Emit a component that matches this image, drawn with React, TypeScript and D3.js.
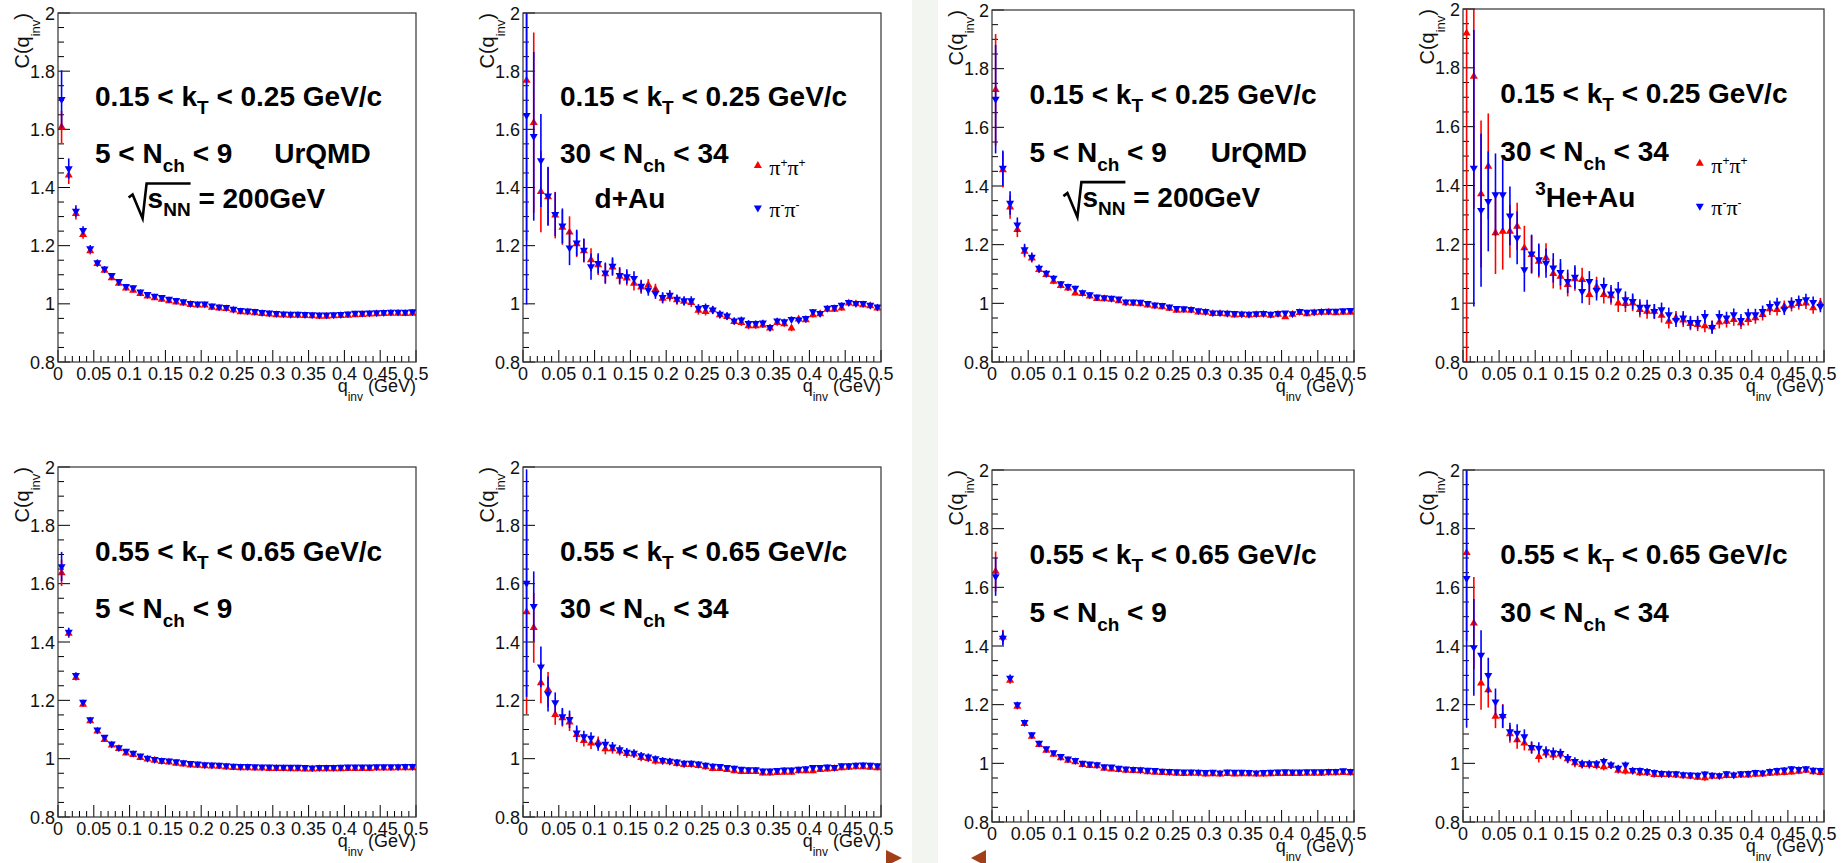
import React from "react";
import * as d3 from "d3";

// ---------- data ----------
const qBins = [0.005,0.015,0.025,0.035,0.045,0.055,0.065,0.075,0.085,0.095,
  0.105,0.115,0.125,0.135,0.145,0.155,0.165,0.175,0.185,0.195,
  0.205,0.215,0.225,0.235,0.245,0.255,0.265,0.275,0.285,0.295,
  0.305,0.315,0.325,0.335,0.345,0.355,0.365,0.375,0.385,0.395,
  0.405,0.415,0.425,0.435,0.445,0.455,0.465,0.475,0.485,0.495];

const kTLow = ["0.15", "0.25"];
const kTHigh = ["0.55", "0.65"];
const nchLow = ["5", "9"];
const nchHigh = ["30", "34"];
const legendLabels = [["+", "+"], ["-", "-"]];

// Panel 1: UrQMD 5<Nch<9, 0.15<kT<0.25
const p1Red = [1.608,1.442,1.31,1.238,1.182,1.138,1.115,1.089,1.07,1.054,
  1.046,1.035,1.026,1.02,1.015,1.01,1.006,1.002,0.997,0.995,
  0.995,0.988,0.985,0.983,0.978,0.972,0.971,0.969,0.966,0.964,
  0.962,0.961,0.96,0.96,0.959,0.958,0.957,0.957,0.958,0.959,
  0.96,0.962,0.963,0.964,0.965,0.966,0.967,0.967,0.966,0.967];
const p1Blue = [1.703,1.465,1.319,1.253,1.19,1.142,1.12,1.098,1.077,1.06,
  1.056,1.041,1.033,1.027,1.022,1.016,1.012,1.008,1.002,1.0,
  1.0,0.993,0.99,0.988,0.982,0.978,0.976,0.974,0.971,0.969,
  0.967,0.966,0.965,0.965,0.964,0.963,0.962,0.962,0.963,0.964,
  0.966,0.968,0.968,0.969,0.97,0.971,0.972,0.972,0.972,0.973];
const p1RedErr = [0.055,0.03,0.02,0.014,0.012,0.01,0.009,0.008,0.008,0.007,
  0.007,0.007,0.006,0.006,0.006,0.006,0.006,0.005,0.005,0.005,
  0.005,0.005,0.005,0.005,0.005,0.005,0.005,0.005,0.005,0.005,
  0.005,0.005,0.005,0.005,0.005,0.005,0.005,0.005,0.005,0.005,
  0.005,0.005,0.005,0.005,0.005,0.005,0.005,0.005,0.005,0.005];
const p1BlueErr = [0.1,0.035,0.02,0.014,0.012,0.01,0.009,0.008,0.008,0.007,
  0.007,0.007,0.006,0.006,0.006,0.006,0.006,0.005,0.005,0.005,
  0.005,0.005,0.005,0.005,0.005,0.005,0.005,0.005,0.005,0.005,
  0.005,0.005,0.005,0.005,0.005,0.005,0.005,0.005,0.005,0.005,
  0.005,0.005,0.005,0.005,0.005,0.005,0.005,0.005,0.005,0.005];

// Panel 2: d+Au 30<Nch<34, 0.15<kT<0.25
const p2Red = [1.768,1.623,1.386,1.368,1.305,1.263,1.246,1.206,1.182,1.151,
  1.134,1.103,1.126,1.094,1.088,1.07,1.057,1.065,1.05,1.019,
  1.025,1.013,1.008,1.004,0.977,0.973,0.979,0.962,0.956,0.939,
  0.935,0.924,0.924,0.927,0.916,0.935,0.931,0.916,0.947,0.945,
  0.962,0.965,0.981,0.981,0.985,1.002,1.0,0.996,0.993,0.985];
const p2Blue = [1.648,1.576,1.493,1.371,1.308,1.268,1.193,1.21,1.185,1.128,
  1.139,1.107,1.13,1.098,1.094,1.088,1.061,1.048,1.036,1.022,
  1.03,1.016,1.011,1.011,0.985,0.988,0.979,0.965,0.959,0.942,
  0.945,0.933,0.933,0.935,0.919,0.942,0.939,0.947,0.945,0.95,
  0.973,0.967,0.985,0.988,0.996,1.005,1.002,1.002,0.996,0.99];
const p2RedErr = [0.55,0.31,0.14,0.1,0.08,0.06,0.055,0.045,0.04,0.04,
  0.035,0.035,0.03,0.028,0.025,0.024,0.022,0.02,0.019,0.018,
  0.017,0.016,0.015,0.015,0.014,0.013,0.013,0.012,0.012,0.011,
  0.011,0.011,0.01,0.01,0.01,0.01,0.01,0.01,0.009,0.009,
  0.009,0.009,0.009,0.009,0.009,0.008,0.008,0.008,0.008,0.008];
const p2BlueErr = [0.65,0.29,0.16,0.1,0.075,0.06,0.06,0.045,0.04,0.045,
  0.035,0.035,0.03,0.028,0.025,0.024,0.022,0.02,0.019,0.018,
  0.017,0.016,0.015,0.015,0.014,0.013,0.013,0.012,0.012,0.011,
  0.011,0.011,0.01,0.01,0.01,0.01,0.01,0.01,0.009,0.009,
  0.009,0.009,0.009,0.009,0.009,0.008,0.008,0.008,0.008,0.008];

// Panel 3: UrQMD 5<Nch<9, 0.15<kT<0.25
const p3Red = [1.728,1.455,1.328,1.251,1.177,1.154,1.115,1.098,1.075,1.06,
  1.052,1.035,1.033,1.024,1.016,1.015,1.013,1.008,1.001,1.0,
  0.998,0.994,0.99,0.988,0.983,0.976,0.977,0.976,0.97,0.969,
  0.965,0.965,0.963,0.96,0.961,0.96,0.961,0.962,0.959,0.962,
  0.954,0.962,0.968,0.964,0.967,0.969,0.969,0.967,0.969,0.969];
const p3Blue = [1.696,1.461,1.342,1.268,1.183,1.158,1.12,1.103,1.086,1.067,
  1.058,1.052,1.037,1.03,1.022,1.02,1.018,1.015,1.005,1.005,
  1.004,1.0,0.995,0.993,0.988,0.983,0.982,0.98,0.975,0.973,
  0.968,0.968,0.967,0.966,0.964,0.963,0.965,0.966,0.963,0.966,
  0.968,0.965,0.973,0.97,0.971,0.973,0.974,0.974,0.975,0.976];
const p3RedErr = [0.19,0.06,0.04,0.025,0.02,0.015,0.012,0.01,0.01,0.009,
  0.009,0.008,0.008,0.007,0.007,0.007,0.006,0.006,0.006,0.006,
  0.005,0.005,0.005,0.005,0.005,0.005,0.005,0.005,0.005,0.005,
  0.005,0.005,0.005,0.005,0.005,0.005,0.005,0.005,0.005,0.005,
  0.005,0.005,0.005,0.005,0.005,0.005,0.005,0.005,0.005,0.005];
const p3BlueErr = [0.185,0.06,0.04,0.025,0.02,0.015,0.012,0.01,0.01,0.009,
  0.009,0.008,0.008,0.007,0.007,0.007,0.006,0.006,0.006,0.006,
  0.005,0.005,0.005,0.005,0.005,0.005,0.005,0.005,0.005,0.005,
  0.005,0.005,0.005,0.005,0.005,0.005,0.005,0.005,0.005,0.005,
  0.005,0.005,0.005,0.005,0.005,0.005,0.005,0.005,0.005,0.005];

// Panel 4: 3He+Au 30<Nch<34, 0.15<kT<0.25
const p4Red = [1.918,1.771,1.371,1.465,1.239,1.244,1.244,1.261,1.188,1.165,
  1.142,1.154,1.1,1.091,1.063,1.082,1.08,1.029,1.055,1.029,
  1.025,1.0,0.998,1.0,0.978,0.972,0.972,0.958,0.938,0.95,
  0.942,0.93,0.927,0.923,0.919,0.935,0.938,0.944,0.933,0.944,
  0.95,0.961,0.98,0.978,0.989,0.992,0.998,1.0,0.984,0.998];
const p4Blue = [null,1.459,1.316,1.346,1.369,1.369,1.297,1.222,1.114,1.168,
  1.148,1.136,1.12,1.105,1.074,1.089,1.04,1.074,1.044,1.057,
  1.032,1.042,1.012,1.006,0.987,0.987,0.972,0.978,0.961,0.942,
  0.95,0.935,0.935,0.955,0.918,0.955,0.95,0.961,0.942,0.961,
  0.961,0.972,0.989,0.998,0.98,1.0,1.006,1.012,1.003,0.989];
const p4RedErr = [1.2,0.45,0.25,0.18,0.14,0.13,0.09,0.08,0.075,0.065,
  0.055,0.05,0.05,0.045,0.04,0.04,0.04,0.035,0.035,0.03,
  0.03,0.03,0.028,0.027,0.026,0.025,0.025,0.024,0.024,0.023,
  0.023,0.022,0.022,0.022,0.022,0.021,0.021,0.021,0.021,0.02,
  0.02,0.02,0.02,0.02,0.02,0.02,0.02,0.02,0.02,0.02];
const p4BlueErr = [0,0.47,0.26,0.17,0.14,0.12,0.1,0.09,0.075,0.065,
  0.055,0.05,0.05,0.045,0.04,0.04,0.04,0.035,0.035,0.03,
  0.03,0.03,0.028,0.027,0.026,0.025,0.025,0.024,0.024,0.023,
  0.023,0.022,0.022,0.022,0.022,0.021,0.021,0.021,0.021,0.02,
  0.02,0.02,0.02,0.02,0.02,0.02,0.02,0.02,0.02,0.02];

// Panel 5: 5<Nch<9, 0.55<kT<0.65
const p5Red = [1.637,1.429,1.278,1.186,1.129,1.094,1.065,1.046,1.034,1.019,
  1.014,1.003,0.998,0.994,0.99,0.988,0.984,0.981,0.978,0.977,
  0.975,0.974,0.973,0.971,0.969,0.968,0.968,0.967,0.967,0.966,
  0.966,0.966,0.965,0.965,0.964,0.964,0.965,0.965,0.965,0.965,
  0.966,0.966,0.966,0.966,0.967,0.967,0.967,0.968,0.968,0.968];
const p5Blue = [1.659,1.434,1.286,1.194,1.134,1.099,1.074,1.051,1.038,1.026,
  1.019,1.01,1.002,0.998,0.994,0.993,0.99,0.987,0.984,0.982,
  0.98,0.979,0.978,0.976,0.975,0.974,0.974,0.973,0.972,0.972,
  0.971,0.971,0.971,0.971,0.97,0.969,0.97,0.97,0.97,0.971,
  0.972,0.972,0.972,0.972,0.973,0.973,0.973,0.973,0.974,0.974];
const p5RedErr = [0.045,0.015,0.01,0.008,0.007,0.006,0.006,0.005,0.005,0.005,
  0.005,0.005,0.005,0.005,0.005,0.005,0.005,0.005,0.005,0.005,
  0.005,0.005,0.005,0.005,0.005,0.005,0.005,0.005,0.005,0.005,
  0.005,0.005,0.005,0.005,0.005,0.005,0.005,0.005,0.005,0.005,
  0.005,0.005,0.005,0.005,0.005,0.005,0.005,0.005,0.005,0.005];
const p5BlueErr = [0.05,0.015,0.01,0.008,0.007,0.006,0.006,0.005,0.005,0.005,
  0.005,0.005,0.005,0.005,0.005,0.005,0.005,0.005,0.005,0.005,
  0.005,0.005,0.005,0.005,0.005,0.005,0.005,0.005,0.005,0.005,
  0.005,0.005,0.005,0.005,0.005,0.005,0.005,0.005,0.005,0.005,
  0.005,0.005,0.005,0.005,0.005,0.005,0.005,0.005,0.005,0.005];

// Panel 6: 30<Nch<34, 0.55<kT<0.65
const p6Red = [1.503,1.449,1.26,1.237,1.151,1.14,1.125,1.082,1.062,1.053,
  1.056,1.033,1.033,1.026,1.017,1.015,1.003,1.0,0.991,0.991,
  0.989,0.983,0.979,0.979,0.976,0.972,0.966,0.966,0.962,0.958,
  0.955,0.955,0.955,0.95,0.95,0.952,0.953,0.953,0.958,0.958,
  0.958,0.962,0.964,0.966,0.968,0.97,0.972,0.972,0.97,0.968];
const p6Blue = [1.602,1.522,1.315,1.222,1.192,1.144,1.135,1.089,1.076,1.071,
  1.047,1.05,1.041,1.031,1.023,1.019,1.011,1.006,1.0,0.994,
  0.992,0.989,0.985,0.985,0.982,0.978,0.975,0.974,0.97,0.968,
  0.964,0.963,0.963,0.958,0.958,0.96,0.962,0.962,0.964,0.966,
  0.97,0.97,0.972,0.97,0.976,0.976,0.978,0.979,0.978,0.976];
const p6RedErr = [0.35,0.12,0.07,0.06,0.035,0.03,0.03,0.025,0.02,0.02,
  0.02,0.018,0.016,0.015,0.014,0.013,0.012,0.012,0.011,0.011,
  0.01,0.01,0.01,0.009,0.009,0.009,0.009,0.008,0.008,0.008,
  0.008,0.008,0.008,0.008,0.008,0.008,0.008,0.008,0.008,0.008,
  0.008,0.008,0.008,0.008,0.008,0.008,0.008,0.008,0.008,0.008];
const p6BlueErr = [0.39,0.12,0.07,0.06,0.035,0.03,0.03,0.025,0.02,0.02,
  0.02,0.018,0.016,0.015,0.014,0.013,0.012,0.012,0.011,0.011,
  0.01,0.01,0.01,0.009,0.009,0.009,0.009,0.008,0.008,0.008,
  0.008,0.008,0.008,0.008,0.008,0.008,0.008,0.008,0.008,0.008,
  0.008,0.008,0.008,0.008,0.008,0.008,0.008,0.008,0.008,0.008];

// Panel 7: 5<Nch<9, 0.55<kT<0.65
const p7Red = [1.654,1.43,1.283,1.194,1.135,1.092,1.064,1.044,1.03,1.018,
  1.01,1.005,0.995,0.992,0.991,0.983,0.98,0.978,0.976,0.975,
  0.974,0.971,0.969,0.968,0.967,0.966,0.965,0.966,0.966,0.963,
  0.964,0.963,0.965,0.963,0.964,0.964,0.963,0.963,0.964,0.965,
  0.965,0.965,0.965,0.966,0.966,0.966,0.967,0.967,0.968,0.967];
const p7Blue = [1.637,1.427,1.291,1.2,1.14,1.098,1.069,1.05,1.037,1.024,
  1.015,1.01,1.001,0.998,0.996,0.989,0.988,0.984,0.981,0.98,
  0.979,0.977,0.976,0.974,0.973,0.972,0.971,0.971,0.97,0.969,
  0.97,0.968,0.971,0.97,0.97,0.969,0.968,0.969,0.97,0.971,
  0.972,0.971,0.971,0.972,0.972,0.972,0.973,0.973,0.975,0.973];
const p7RedErr = [0.068,0.025,0.012,0.01,0.008,0.007,0.006,0.006,0.005,0.005,
  0.005,0.005,0.005,0.005,0.005,0.005,0.005,0.005,0.005,0.005,
  0.005,0.005,0.005,0.005,0.005,0.005,0.005,0.005,0.005,0.005,
  0.005,0.005,0.005,0.005,0.005,0.005,0.005,0.005,0.005,0.005,
  0.005,0.005,0.005,0.005,0.005,0.005,0.005,0.005,0.005,0.005];
const p7BlueErr = [0.066,0.025,0.012,0.01,0.008,0.007,0.006,0.006,0.005,0.005,
  0.005,0.005,0.005,0.005,0.005,0.005,0.005,0.005,0.005,0.005,
  0.005,0.005,0.005,0.005,0.005,0.005,0.005,0.005,0.005,0.005,
  0.005,0.005,0.005,0.005,0.005,0.005,0.005,0.005,0.005,0.005,
  0.005,0.005,0.005,0.005,0.005,0.005,0.005,0.005,0.005,0.005];

// Panel 8: 30<Nch<34, 0.55<kT<0.65
const p8Red = [1.718,1.478,1.273,1.25,1.16,1.162,1.1,1.08,1.069,1.052,
  1.023,1.035,1.028,1.031,1.015,1.001,0.995,0.995,0.992,0.988,
  0.992,0.976,0.973,0.973,0.967,0.967,0.961,0.961,0.961,0.96,
  0.957,0.955,0.952,0.95,0.955,0.955,0.958,0.958,0.96,0.96,
  0.962,0.963,0.966,0.967,0.968,0.97,0.972,0.976,0.971,0.968];
const p8Blue = [1.631,1.395,1.369,1.3,1.21,1.16,1.108,1.103,1.091,1.055,
  1.052,1.04,1.037,1.034,1.017,1.007,0.999,0.999,0.999,1.007,
  0.995,0.984,0.995,0.976,0.976,0.973,0.969,0.966,0.965,0.965,
  0.962,0.961,0.96,0.964,0.96,0.958,0.965,0.961,0.965,0.966,
  0.969,0.968,0.973,0.976,0.978,0.982,0.98,0.982,0.977,0.976];
const p8RedErr = [0.3,0.157,0.09,0.06,0.04,0.04,0.03,0.03,0.025,0.02,
  0.02,0.018,0.017,0.016,0.015,0.014,0.013,0.013,0.012,0.012,
  0.011,0.011,0.011,0.01,0.01,0.01,0.01,0.01,0.01,0.009,
  0.009,0.009,0.009,0.009,0.009,0.009,0.009,0.009,0.009,0.009,
  0.009,0.009,0.009,0.009,0.009,0.009,0.009,0.009,0.009,0.009];
const p8BlueErr = [0.51,0.165,0.085,0.06,0.045,0.04,0.03,0.03,0.025,0.02,
  0.02,0.018,0.017,0.016,0.015,0.014,0.013,0.013,0.012,0.012,
  0.011,0.011,0.011,0.01,0.01,0.01,0.01,0.01,0.01,0.009,
  0.009,0.009,0.009,0.009,0.009,0.009,0.009,0.009,0.009,0.009,
  0.009,0.009,0.009,0.009,0.009,0.009,0.009,0.009,0.009,0.009];

// ---------- layout / style ----------
const W = 1843;
const H = 863;
const SANS = "'Liberation Sans', Arial, Helvetica, sans-serif";
const SERIF = "'Liberation Serif', 'Times New Roman', serif";
const RED = "#ff0000";
const BLUE = "#0000ff";

type Cfg = {
  frame: [number, number, number, number];
  red: (number | null)[]; redErr: number[];
  blue: (number | null)[]; blueErr: number[];
  kT: string[]; nch: string[];
  model?: string; sqrt?: boolean; system?: "dAu" | "HeAu"; legend?: boolean;
};

const panels: Cfg[] = [
  { frame: [58, 416, 13, 362], red: p1Red, redErr: p1RedErr, blue: p1Blue, blueErr: p1BlueErr, kT: kTLow, nch: nchLow, model: "UrQMD", sqrt: true },
  { frame: [523, 881, 13, 362], red: p2Red, redErr: p2RedErr, blue: p2Blue, blueErr: p2BlueErr, kT: kTLow, nch: nchHigh, system: "dAu", legend: true },
  { frame: [992, 1354, 10, 362], red: p3Red, redErr: p3RedErr, blue: p3Blue, blueErr: p3BlueErr, kT: kTLow, nch: nchLow, model: "UrQMD", sqrt: true },
  { frame: [1463, 1824, 9, 362], red: p4Red, redErr: p4RedErr, blue: p4Blue, blueErr: p4BlueErr, kT: kTLow, nch: nchHigh, system: "HeAu", legend: true },
  { frame: [58, 416, 467, 817], red: p5Red, redErr: p5RedErr, blue: p5Blue, blueErr: p5BlueErr, kT: kTHigh, nch: nchLow },
  { frame: [523, 881, 467, 817], red: p6Red, redErr: p6RedErr, blue: p6Blue, blueErr: p6BlueErr, kT: kTHigh, nch: nchHigh },
  { frame: [992, 1354, 470, 822], red: p7Red, redErr: p7RedErr, blue: p7Blue, blueErr: p7BlueErr, kT: kTHigh, nch: nchLow },
  { frame: [1463, 1824, 470, 822], red: p8Red, redErr: p8RedErr, blue: p8Blue, blueErr: p8BlueErr, kT: kTHigh, nch: nchHigh },
];

const triUp = d3.symbol(d3.symbolTriangle, 28)() as string;
const fmt = (t: number) => String(Number(t.toFixed(3)));

function Series({ x, y, vals, errs, color, down }: any) {
  return (
    <g>
      {qBins.map((q, i) => {
        const v = vals[i];
        if (v === null || v === undefined) return null;
        const e = errs[i];
        return (
          <line key={"e" + i} x1={x(q)} x2={x(q)} y1={y(v - e)} y2={y(v + e)}
            stroke={color} strokeWidth={1.6} />
        );
      })}
      {qBins.map((q, i) => {
        const v = vals[i];
        if (v === null || v === undefined) return null;
        return (
          <path key={"m" + i} d={triUp} fill={color}
            transform={`translate(${x(q)},${y(v)})${down ? " rotate(180)" : ""}`} />
        );
      })}
    </g>
  );
}

function Panel({ cfg, idx }: { cfg: Cfg; idx: number }) {
  const [x0, x1, y0, y1] = cfg.frame;
  const x = d3.scaleLinear().domain([0, 0.5]).range([x0, x1]);
  const y = d3.scaleLinear().domain([0.8, 2]).range([y1, y0]);
  const xMajor = x.ticks(10);
  const xMinor = x.ticks(50).filter((t) => !xMajor.some((m) => Math.abs(m - t) < 1e-9));
  const yMajor = y.ticks(6);
  const yMinor = y.ticks(24).filter((t) => !yMajor.some((m) => Math.abs(m - t) < 1e-9));
  const tx = x(0.0517);
  const clipId = "clip" + idx;
  const line1 = y(1.679);
  const line2 = y(1.483);
  const line3 = y(1.328);

  return (
    <g>
      <defs>
        <clipPath id={clipId}>
          <rect x={x0} y={y0} width={x1 - x0} height={y1 - y0} />
        </clipPath>
      </defs>
      {/* ticks */}
      <g stroke="#000" strokeWidth={1}>
        {xMajor.map((t) => <line key={"xM" + t} x1={x(t)} x2={x(t)} y1={y1} y2={y1 - 12} />)}
        {xMinor.map((t) => <line key={"xm" + t} x1={x(t)} x2={x(t)} y1={y1} y2={y1 - 6} />)}
        {yMajor.map((t) => <line key={"yM" + t} x1={x0} x2={x0 + 12} y1={y(t)} y2={y(t)} />)}
        {yMinor.map((t) => <line key={"ym" + t} x1={x0} x2={x0 + 6} y1={y(t)} y2={y(t)} />)}
      </g>
      {/* tick labels */}
      <g fontFamily={SANS} fontSize={18} fill="#111">
        {xMajor.map((t) => (
          <text key={"xl" + t} x={x(t)} y={y1 + 18} textAnchor="middle">{fmt(t)}</text>
        ))}
        {yMajor.map((t) => (
          <text key={"yl" + t} x={x0 - 3} y={y(t) + 6.5} textAnchor="end">{fmt(t)}</text>
        ))}
      </g>
      {/* axis titles */}
      <text x={x1} y={y1 + 30} textAnchor="end" fontFamily={SANS} fontSize={18} fill="#111"
        style={{ whiteSpace: "pre" }}>
        q<tspan fontSize={12} dy={9}>inv</tspan><tspan dy={-9}>{" (GeV)"}</tspan>
      </text>
      <text transform={`translate(${x0 - 29},${y0}) rotate(-90)`} textAnchor="end"
        fontFamily={SANS} fontSize={20} fill="#111">
        C(q<tspan fontSize={13} dy={11}>inv</tspan><tspan dy={-11}>)</tspan>
      </text>
      {/* data */}
      <g clipPath={`url(#${clipId})`}>
        <Series x={x} y={y} vals={cfg.red} errs={cfg.redErr} color={RED} down={false} />
        <Series x={x} y={y} vals={cfg.blue} errs={cfg.blueErr} color={BLUE} down={true} />
      </g>
      {/* frame */}
      <rect x={x0} y={y0} width={x1 - x0} height={y1 - y0} fill="none" stroke="#333" strokeWidth={1.2} />
      {/* annotations */}
      <g fontFamily={SANS} fontWeight="bold" fill="#000" style={{ whiteSpace: "pre" }}>
        <text x={tx} y={line1} fontSize={28}>
          {`${cfg.kT[0]} < k`}<tspan fontSize={19} dy={8}>T</tspan><tspan dy={-8}>{` < ${cfg.kT[1]} GeV/c`}</tspan>
        </text>
        <text x={tx} y={line2} fontSize={28}>
          {`${cfg.nch[0]} < N`}<tspan fontSize={19} dy={9}>ch</tspan><tspan dy={-9}>{` < ${cfg.nch[1]}`}</tspan>
        </text>
        {cfg.model && (
          <text x={x(0.302)} y={line2} fontSize={28}>{cfg.model}</text>
        )}
        {cfg.system === "dAu" && (
          <text x={x(0.1)} y={line3} fontSize={28}>d+Au</text>
        )}
        {cfg.system === "HeAu" && (
          <text x={x(0.1)} y={line3} fontSize={28}>
            <tspan fontSize={19} dy={-12}>3</tspan><tspan dy={12}>He+Au</tspan>
          </text>
        )}
      </g>
      {cfg.sqrt && (
        <g>
          <path
            d={`M${x(0.1) - 1},${line3 - 11} L${x(0.1) + 3},${line3 - 14} L${x(0.1) + 13},${line3 + 10} L${x(0.1) + 17},${line3 - 25} L${x(0.1) + 61},${line3 - 25}`}
            fill="none" stroke="#000" strokeWidth={2.6} strokeLinejoin="miter" />
          <text x={x(0.1) + 18} y={line3} fontFamily={SANS} fontWeight="bold" fontSize={28}
            style={{ whiteSpace: "pre" }}>
            s<tspan fontSize={19} dy={8}>NN</tspan><tspan dy={-8}>{" = 200GeV"}</tspan>
          </text>
        </g>
      )}
      {cfg.legend && (
        <g>
          <path d={triUp} fill={RED} transform={`translate(${x(0.328)},${y(1.475)})`} />
          <path d={triUp} fill={BLUE} transform={`translate(${x(0.328)},${y(1.33)}) rotate(180)`} />
          {[0, 1].map((k) => (
            <text key={"lg" + k} x={x(0.344)} y={y(k === 0 ? 1.443 : 1.299)} fontFamily={SERIF}
              fontSize={22} fill="#000">
              π<tspan fontFamily={SANS} fontSize={12} dy={-8}>{legendLabels[k][0]}</tspan>
              <tspan dy={8}>π</tspan><tspan fontFamily={SANS} fontSize={12} dy={-8}>{legendLabels[k][1]}</tspan>
            </text>
          ))}
        </g>
      )}
    </g>
  );
}

export default function App() {
  return (
    <div style={{ position: "absolute", left: 0, top: 0, width: W, height: H, overflow: "hidden" }}>
      <svg width={W} height={H} viewBox={`0 0 ${W} ${H}`} style={{ display: "block", background: "#fff" }}>
        <rect x={0} y={0} width={W} height={H} fill="#fff" />
        <rect x={912} y={0} width={26} height={H} fill="#f3f5f0" />
        {panels.map((p, i) => <Panel key={i} cfg={p} idx={i} />)}
        <path d="M886,850 L902,858 L886,866 Z" fill="#a33f18" />
        <path d="M986,850 L971,858 L986,866 Z" fill="#a33f18" />
      </svg>
    </div>
  );
}
